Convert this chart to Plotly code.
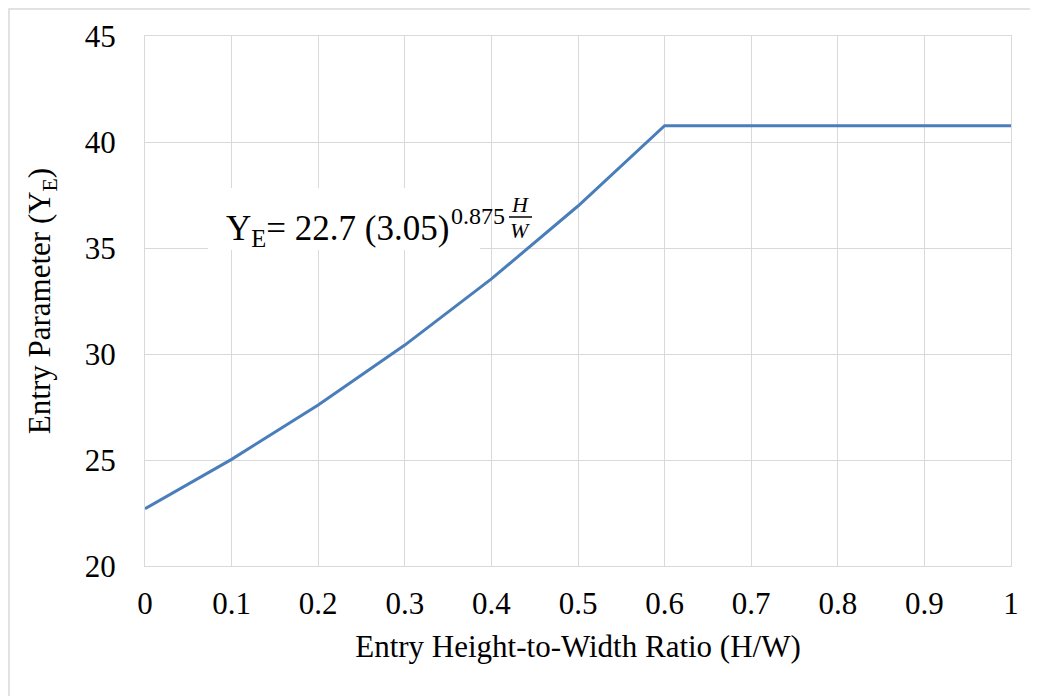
import plotly.graph_objects as go

# Data
hw_ratio = [0.0, 0.1, 0.2, 0.3, 0.4, 0.5, 0.6, 0.7, 0.8, 0.9, 1.0]
entry_param = [22.7, 25.03, 27.59, 30.42, 33.54, 36.98, 40.77, 40.77, 40.77, 40.77, 40.77]
x_ticks = [0, 0.1, 0.2, 0.3, 0.4, 0.5, 0.6, 0.7, 0.8, 0.9, 1]
x_tick_text = ["0", "0.1", "0.2", "0.3", "0.4", "0.5", "0.6", "0.7", "0.8", "0.9", "1"]
y_ticks = [20, 25, 30, 35, 40, 45]

# page body offset of 8px
OFF = 8
W, H = 1038, 696
PL, PR, PT, PB = 145, 1011, 36, 566  # target plot area in page px
ML, MT = PL - OFF, PT - OFF
PW, PH = PR - PL, PB - PT
MR = W - ML - PW
MB = H - MT - PH

def px_x(p):
    return (p - PL) / PW

def px_y(p):
    return 1 - (p - PT) / PH

def dx(p):
    return (p - PL) / PW

def dy(p):
    return 20 + (PB - p) / PH * 25

SERIF = "Liberation Serif, Times New Roman, serif"
grid = "#d9d9d9"
FS = 31

fig = go.Figure()
fig.add_trace(go.Scatter(x=hw_ratio, y=entry_param, mode="lines",
                         line=dict(color="#4a7ebb", width=3), showlegend=False,
                         hoverinfo="skip"))

fig.update_layout(
    width=W, height=H,
    margin=dict(l=ML, r=MR, t=MT, b=MB),
    paper_bgcolor="white", plot_bgcolor="white",
    font=dict(family=SERIF, color="black", size=FS),
    xaxis=dict(range=[0, 1], tickvals=x_ticks, ticktext=x_tick_text,
               showgrid=True, gridcolor=grid, gridwidth=1.3,
               showline=True, linecolor=grid, linewidth=1.3, mirror=True,
               zeroline=False, ticks="outside", ticklen=10, tickcolor="rgba(0,0,0,0)",
               tickfont=dict(size=FS, family=SERIF),
               title=dict(text="Entry Height-to-Width Ratio (H/W)",
                          font=dict(size=FS, family=SERIF), standoff=14)),
    yaxis=dict(range=[20, 45], tickvals=y_ticks,
               showgrid=True, gridcolor=grid, gridwidth=1.3,
               showline=True, linecolor=grid, linewidth=1.3, mirror=True,
               zeroline=False, ticks="outside", ticklen=22, tickcolor="rgba(0,0,0,0)",
               tickfont=dict(size=FS, family=SERIF),
               title=dict(text="Entry Parameter (Y<sub>E</sub>)",
                          font=dict(size=FS, family=SERIF), standoff=24)),
)

# Outer chart border (left and top visible)
fig.add_shape(type="rect", xref="paper", yref="paper",
              x0=px_x(OFF + 1), x1=px_x(1080), y0=px_y(740), y1=px_y(OFF + 1),
              line=dict(color=grid, width=1.5), fillcolor="rgba(0,0,0,0)", layer="below")

# White box behind equation
fig.add_shape(type="rect", xref="x", yref="y",
              x0=dx(208), x1=dx(480), y0=dy(250), y1=dy(188),
              line=dict(width=0), fillcolor="white", layer="between")

# Equation text
fig.add_annotation(x=dx(224), y=dy(230), xref="x", yref="y", xanchor="left", yanchor="middle",
                   text="Y<sub>E</sub>= 22.7 (3.05)", showarrow=False,
                   font=dict(family=SERIF, size=35, color="black"))
fig.add_annotation(x=dx(449), y=dy(216), xref="x", yref="y", xanchor="left", yanchor="middle",
                   text="0.875", showarrow=False,
                   font=dict(family=SERIF, size=24, color="black"))
fig.add_annotation(x=dx(520), y=dy(204), xref="x", yref="y", xanchor="center", yanchor="middle",
                   text="<i>H</i>", showarrow=False,
                   font=dict(family=SERIF, size=22, color="black"))
fig.add_annotation(x=dx(520), y=dy(230), xref="x", yref="y", xanchor="center", yanchor="middle",
                   text="<i>W</i>", showarrow=False,
                   font=dict(family=SERIF, size=22, color="black"))
fig.add_shape(type="line", xref="x", yref="y", x0=dx(509), x1=dx(532), y0=dy(217), y1=dy(217),
              line=dict(color="black", width=1.5), layer="above")

fig.write_html("out.html")
